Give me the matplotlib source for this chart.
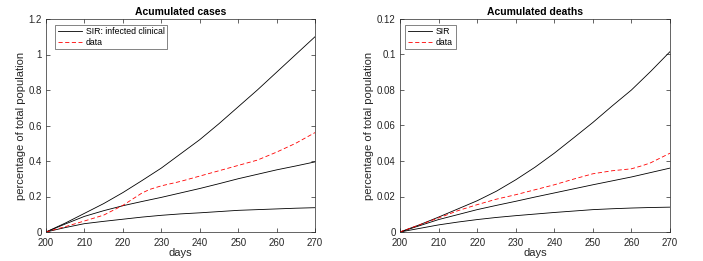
import matplotlib
matplotlib.use("Agg")
import matplotlib.pyplot as plt

plt.rcParams["font.family"] = ["Liberation Sans", "DejaVu Sans"]

days = [200, 205, 210, 215, 220, 225, 230, 235, 240, 245, 250, 255, 260, 265, 270]

# accumulated cases (% of population)
cases_high = [0, 0.05, 0.105, 0.16, 0.222, 0.29, 0.36, 0.44, 0.52, 0.61, 0.705, 0.80, 0.90, 1.0, 1.10]
cases_mid = [0, 0.045, 0.088, 0.12, 0.148, 0.172, 0.195, 0.22, 0.245, 0.272, 0.30, 0.325, 0.35, 0.372, 0.395]
cases_low = [0, 0.025, 0.047, 0.06, 0.072, 0.084, 0.094, 0.102, 0.108, 0.115, 0.122, 0.126, 0.130, 0.134, 0.137]
cases_days = [200, 205, 210, 215, 220, 225, 227, 230, 235, 240, 245, 250, 255, 260, 265, 270]
cases_data = [0, 0.03, 0.062, 0.095, 0.15, 0.22, 0.24, 0.26, 0.285, 0.315, 0.345, 0.375, 0.405, 0.45, 0.5, 0.56]

# accumulated deaths (% of population)
deaths_high = [0, 0.004, 0.0084, 0.013, 0.0176, 0.023, 0.0294, 0.0365, 0.0444, 0.053, 0.0617, 0.071, 0.080, 0.0905, 0.1016]
deaths_mid = [0, 0.0035, 0.007, 0.0098, 0.0126, 0.015, 0.0173, 0.0197, 0.022, 0.0243, 0.0266, 0.0288, 0.031, 0.0335, 0.036]
deaths_low = [0, 0.002, 0.004, 0.0056, 0.007, 0.0082, 0.0092, 0.0101, 0.011, 0.0118, 0.0126, 0.0131, 0.0135, 0.0138, 0.014]
deaths_days = [200, 205, 210, 215, 220, 225, 230, 235, 240, 245, 250, 255, 260, 263, 265, 270]
deaths_data = [0, 0.004, 0.0079, 0.012, 0.0154, 0.0185, 0.021, 0.0238, 0.0266, 0.0298, 0.0328, 0.0345, 0.0356, 0.0375, 0.039, 0.0444]

fig = plt.figure(figsize=(7.03, 2.61), dpi=100)
ax1 = fig.add_axes([46 / 703, 1 - 232 / 261, 269 / 703, 213 / 261])
ax2 = fig.add_axes([400 / 703, 1 - 232 / 261, 270 / 703, 213 / 261])

panels = [
    (ax1, cases_high, cases_mid, cases_low, cases_days, cases_data,
     "Acumulated cases", "SIR: infected clinical", 1.2, [0, 0.2, 0.4, 0.6, 0.8, 1, 1.2],
     ["0", "0.2", "0.4", "0.6", "0.8", "1", "1.2"], (0.025, 0.985)),
    (ax2, deaths_high, deaths_mid, deaths_low, deaths_days, deaths_data,
     "Acumulated deaths", "SIR", 0.12, [0, 0.02, 0.04, 0.06, 0.08, 0.1, 0.12],
     ["0", "0.02", "0.04", "0.06", "0.08", "0.1", "0.12"], (0.01, 0.985)),
]

grey = "#262626"
for ax, hi, mid, lo, ddays, dvals, title, lab, ymax, yt, ytl, legpos in panels:
    l1, = ax.plot(days, hi, color="black", lw=0.6)
    ax.plot(days, mid, color="black", lw=0.6)
    ax.plot(days, lo, color="black", lw=0.6)
    l2, = ax.plot(ddays, dvals, color="red", lw=0.6, ls=(0, (5, 3)))
    ax.set_xlim(200, 270)
    ax.set_ylim(0, ymax)
    ax.set_xticks(range(200, 271, 10))
    ax.set_yticks(yt)
    ax.set_yticklabels(ytl)
    ax.tick_params(direction="in", top=True, right=True, labelsize=7,
                   length=3, width=0.5, colors=grey)
    ax.tick_params(axis="x", pad=4.5)
    ax.tick_params(axis="y", pad=3)
    for s in ax.spines.values():
        s.set_linewidth(0.5)
        s.set_color(grey)
    ax.set_title(title, fontsize=7.5, fontweight="bold", pad=3)
    ax.set_xlabel("days", fontsize=8, color=grey, labelpad=0)
    ax.set_ylabel("percentage of total population", fontsize=8, color=grey, labelpad=2)
    leg = ax.legend([l1, l2], [lab, "data"], loc="upper left", bbox_to_anchor=legpos,
                    fontsize=6.3, frameon=True, fancybox=False, handlelength=2.7,
                    borderpad=0.3, labelspacing=0.15, handletextpad=0.5, borderaxespad=0.3)
    leg.get_frame().set_edgecolor(grey)
    leg.get_frame().set_linewidth(0.5)

fig.savefig("out.png", dpi=100)
